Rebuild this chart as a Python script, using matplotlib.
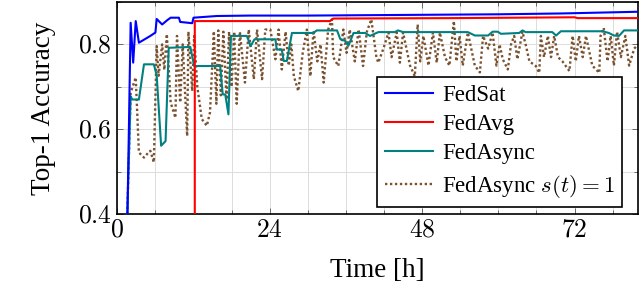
import matplotlib
matplotlib.use("Agg")
import matplotlib.pyplot as plt
from matplotlib.ticker import MultipleLocator

plt.rcParams['font.family'] = ['Liberation Serif', 'DejaVu Serif']
plt.rcParams['mathtext.fontset'] = 'cm'

# FedSat
sat_t = [1.6, 2.1, 2.5, 2.9, 3.4, 5.2, 6.0, 6.2, 7.06, 7.85, 8.4, 9.7, 9.9, 11.8, 12.0,
         15.7, 20.9, 30, 40, 50, 60, 70, 76, 82]
sat_acc = [0.40, 0.851, 0.757, 0.855, 0.804, 0.82, 0.828, 0.86, 0.847, 0.857, 0.863, 0.863,
           0.853, 0.85, 0.863, 0.867, 0.868, 0.868, 0.869, 0.870, 0.871, 0.873, 0.875, 0.877]

# FedAvg
avg_t = [12.2, 12.2, 33.5, 34.0, 53.0, 72.0, 72.5, 82]
avg_acc = [0.10, 0.855, 0.855, 0.861, 0.862, 0.864, 0.862, 0.862]

# FedAsync
async_t = [1.57, 2.1, 2.35, 3.4, 4.2, 5.75, 6.2, 6.9, 7.6, 8.1, 11.5, 12.1, 16.2, 16.6, 17.0,
           17.5, 17.9, 20.4, 21.0, 21.6, 24.9, 25.1, 25.9, 26.2, 26.7, 27.5, 30.9, 31.4, 34.6,
           35.1, 35.9, 36.4, 37.2, 39.0, 39.8, 41.1, 43.7, 44.2, 45.0, 55.2, 56.3, 58.4, 59.1,
           59.9, 60.4, 63.3, 63.8, 64.3, 68.5, 69.1, 69.85, 76.4, 77.4, 78.2, 79.0, 79.8, 82]
async_acc = [0.40, 0.678, 0.67, 0.67, 0.753, 0.753, 0.727, 0.561, 0.572, 0.792, 0.794, 0.749,
             0.749, 0.682, 0.682, 0.635, 0.82, 0.82, 0.796, 0.812, 0.812, 0.788, 0.788, 0.761,
             0.761, 0.827, 0.827, 0.833, 0.833, 0.813, 0.808, 0.797, 0.827, 0.827, 0.82, 0.829,
             0.829, 0.833, 0.829, 0.829, 0.821, 0.821, 0.83, 0.83, 0.825, 0.827, 0.833, 0.829,
             0.829, 0.821, 0.831, 0.831, 0.827, 0.821, 0.82, 0.833, 0.833]

# FedAsync s(t)=1
st1_t = [1.57, 2.1, 2.9, 3.4, 4.2, 4.9, 5.2, 5.75, 6.2, 6.5, 7.06, 7.4, 7.8, 8.4, 9.15, 9.4,
         9.9, 10.3, 11.0, 11.2, 11.8, 12.1, 12.6, 13.3, 14.1, 14.6, 15.2, 15.6, 15.9, 16.3,
         16.7, 17.2, 17.6, 18.0, 18.4, 18.8, 19.3, 20.1, 20.7, 21.5, 22.0, 22.8, 23.3, 24.1,
         24.9, 25.4, 25.9, 26.5, 27.0, 27.4, 27.8, 28.5, 29.2, 29.85, 30.4, 30.9, 31.5, 32.0,
         32.5, 33.2, 33.8, 34.0, 34.8, 35.6, 36.1, 36.6, 37.4, 38.0, 38.7, 39.3, 40.0, 40.8,
         41.1, 41.9, 42.7, 43.2, 44.0, 44.5, 45.0, 46.1, 46.85, 47.3, 47.7, 48.2, 49.0, 49.7,
         50.3, 50.8, 51.6, 52.3, 53.0, 53.4, 53.9, 54.4, 55.2, 56.3, 57.1, 57.6, 58.4, 59.1,
         59.7, 60.2, 60.7, 61.5, 62.0, 62.5, 63.0, 63.8, 64.3, 64.9, 65.9, 66.45, 66.7, 67.2,
         67.8, 68.3, 68.8, 69.4, 70.1, 71.2, 71.7, 72.2, 72.7, 73.3, 73.8, 74.8, 75.9, 76.1,
         76.6, 77.2, 77.7, 78.2, 78.7, 79.3, 80.0, 80.6, 81.4, 82]
st1_acc = [0.40, 0.686, 0.722, 0.545, 0.533, 0.545, 0.549, 0.522, 0.796, 0.726, 0.80, 0.74,
           0.824, 0.663, 0.627, 0.82, 0.663, 0.80, 0.584, 0.83, 0.69, 0.82, 0.70, 0.624, 0.608,
           0.64, 0.831, 0.66, 0.833, 0.68, 0.83, 0.67, 0.83, 0.70, 0.83, 0.66, 0.83, 0.71,
           0.835, 0.718, 0.835, 0.718, 0.835, 0.835, 0.765, 0.835, 0.741, 0.83, 0.75, 0.80,
           0.725, 0.69, 0.78, 0.835, 0.725, 0.833, 0.76, 0.80, 0.71, 0.835, 0.859, 0.77, 0.749,
           0.835, 0.78, 0.835, 0.76, 0.835, 0.749, 0.83, 0.859, 0.77, 0.757, 0.79, 0.828, 0.77,
           0.828, 0.757, 0.828, 0.75, 0.725, 0.847, 0.76, 0.82, 0.75, 0.828, 0.757, 0.828,
           0.77, 0.75, 0.855, 0.76, 0.82, 0.75, 0.828, 0.75, 0.734, 0.82, 0.79, 0.828, 0.75,
           0.80, 0.765, 0.741, 0.80, 0.82, 0.765, 0.83, 0.80, 0.76, 0.749, 0.733, 0.82, 0.77,
           0.82, 0.77, 0.82, 0.77, 0.76, 0.737, 0.82, 0.76, 0.82, 0.77, 0.82, 0.75, 0.733,
           0.82, 0.839, 0.76, 0.82, 0.75, 0.83, 0.77, 0.82, 0.75, 0.79, 0.80]

x_ticks = [0, 24, 48, 72]
y_ticks = [0.4, 0.6, 0.8]

fig = plt.figure(figsize=(6.4, 2.95), dpi=100)
ax = fig.add_axes([0.1833, 0.2746, 0.8136, 0.7186])

ax.plot(sat_t, sat_acc, color='blue', lw=1.5, label='FedSat', zorder=5)
ax.plot(avg_t, avg_acc, color='red', lw=1.5, label='FedAvg', zorder=4)
ax.plot(async_t, async_acc, color='#008080', lw=1.5, label='FedAsync', zorder=3)
ax.plot(st1_t, st1_acc, color='#7a5230', lw=1.7, ls=(0, (1, 1.1)),
        label='FedAsync $s(t) = 1$', zorder=2)

ax.set_xlim(0, 82)
ax.set_ylim(0.4, 0.9)
ax.set_xticks(x_ticks)
ax.set_xticklabels(['$%d$' % v for v in x_ticks])
ax.set_yticks(y_ticks)
ax.set_yticklabels(['$%.1f$' % v for v in y_ticks])
ax.xaxis.set_minor_locator(MultipleLocator(6))
ax.yaxis.set_minor_locator(MultipleLocator(0.1))
ax.tick_params(which='both', direction='in', top=True, right=True, labelsize=18.5,
               width=0.6, color='#555555')
ax.tick_params(which='major', length=4, pad=4)
ax.tick_params(which='minor', length=3)
ax.grid(True, which='both', color='#dcdcdc', lw=0.7)
ax.set_axisbelow(True)
for s in ax.spines.values():
    s.set_linewidth(1.2)

ax.set_xlabel('Time [h]', fontsize=19.5, labelpad=12)
ax.set_ylabel('Top-1 Accuracy', fontsize=19.5, labelpad=16)

leg = ax.legend(loc='lower right', bbox_to_anchor=(0.969, 0.033), borderaxespad=0,
                fontsize=16.5, fancybox=False, framealpha=1, edgecolor='black',
                handlelength=2.1, handletextpad=0.4, labelspacing=0.36, borderpad=0.32)
leg.get_frame().set_linewidth(1.2)
leg.set_zorder(10)

plt.savefig('out.png', dpi=100)
